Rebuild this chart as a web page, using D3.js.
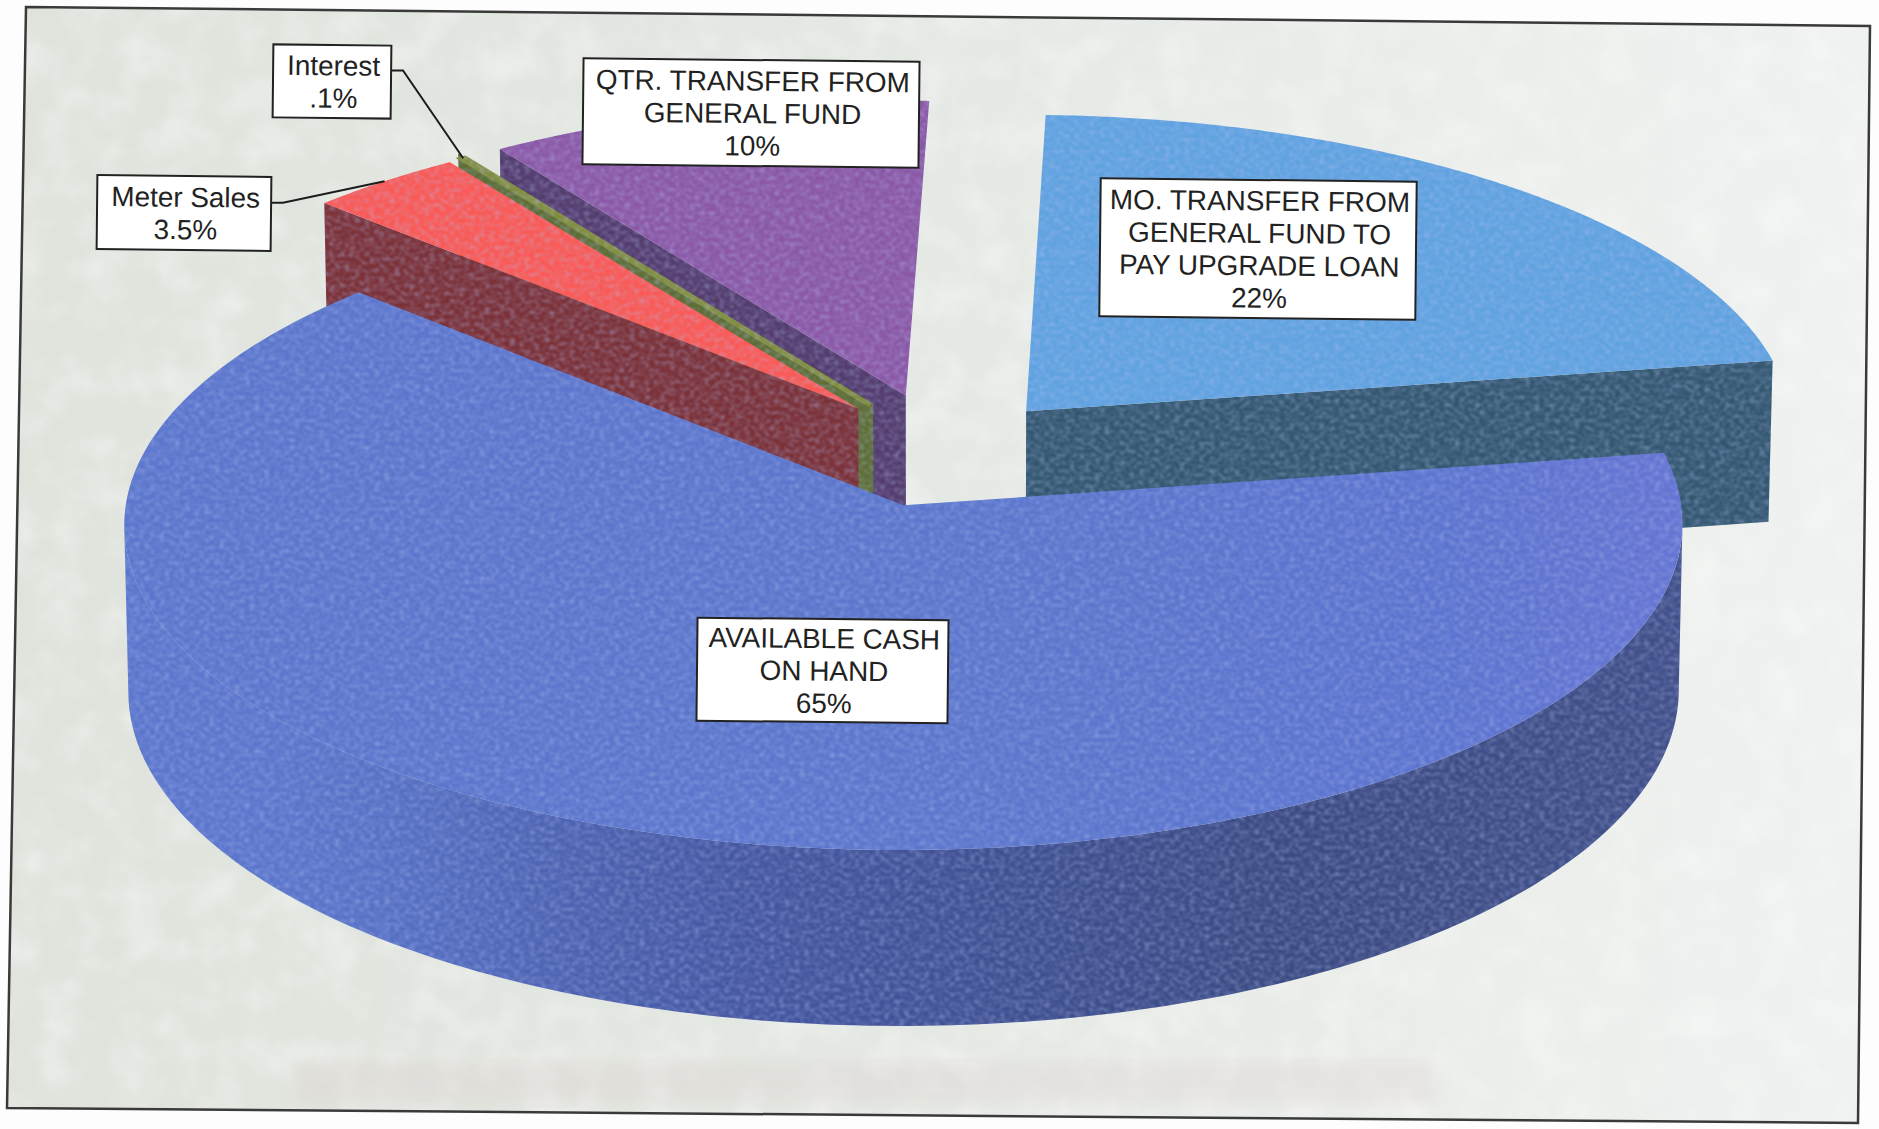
<!DOCTYPE html>
<html>
<head>
<meta charset="utf-8">
<script src="https://cdnjs.cloudflare.com/ajax/libs/d3/7.8.5/d3.min.js"></script>
<style>
  html, body { margin: 0; padding: 0; background: #fdfdfd; }
  svg { display: block; }
  text { font-family: "Liberation Sans", Arial, sans-serif; font-size: 27.9px; fill: #222; }
</style>
</head>
<body>
<svg id="chart" width="1879" height="1129"></svg>
<script>
// Funding sources, in drawing order clockwise from the top of the pie.
const categories = ["MO. TRANSFER", "AVAILABLE CASH", "Meter Sales", "Interest", "QTR. TRANSFER"];
const values = [22, 65, 3.5, 0.1, 10];
const labelLines = [
  ["MO. TRANSFER FROM", "GENERAL FUND TO", "PAY UPGRADE LOAN", "22%"],
  ["AVAILABLE CASH", "ON HAND", "65%"],
  ["Meter Sales", "3.5%"],
  ["Interest", ".1%"],
  ["QTR. TRANSFER FROM", "GENERAL FUND", "10%"]
];

// Styling and layout for each slice.
const topColors = ["#5ea2e0", "url(#blueTop)", "#fb5853", "#7f8c3a", "#8a56a5"];
const cutColors = ["#31566f", "#3e4f8a", "#7a2f35", "#5c6c32", "#523a6c"];
const explode = [0.163, 0.18, 0.172, 0.172, 0.18];
const labelBoxes = [
  [1100, 180, 316, 138],
  [697, 619, 251, 103],
  [97, 176, 174, 74],
  [273, 45, 118, 73],
  [583, 60, 336, 106]
];

const svg = d3.select("#chart");
const defs = svg.append("defs");

// Perspective mapping from the unit disc onto the page.
const k = 0.058, depth = 164, baseShrink = 0.995;
const sx = d3.scaleLinear().domain([-1, 1]).range([944 - 770, 944 + 770]);
const sy = d3.scaleLinear().domain([-1, 1]).range([450 - 318, 450 + 318]);
const project = (u, v, lower) => {
  const w = 1 - k * v;
  const x = sx(u / w), y = sy(v / w);
  return lower ? [944 + (x - 944) * baseShrink, y + depth / w] : [x, y];
};

const pie = d3.pie().sort(null)
  .startAngle(1.9 * Math.PI / 180)
  .endAngle(361.7 * Math.PI / 180);
const arcs = pie(values);

const slices = arcs.map((a, i) => {
  const mid = (a.startAngle + a.endAngle) / 2;
  const c = [explode[i] * Math.sin(mid), -explode[i] * Math.cos(mid)];
  const at = (t, r = 1) => [c[0] + r * Math.sin(t), c[1] - r * Math.cos(t)];
  return { i, a, c, at };
});

const line = d3.line();
const angleSteps = (s, e) => d3.range(0, 241).map(d => s + (e - s) * d / 240);

const horizontalGradient = (id, x1, x2, stops) => {
  const g = defs.append("linearGradient").attr("id", id)
    .attr("gradientUnits", "userSpaceOnUse").attr("x1", x1).attr("x2", x2).attr("y1", 0).attr("y2", 0);
  stops.forEach(([o, col]) => g.append("stop").attr("offset", o).attr("stop-color", col));
};
horizontalGradient("wall", 124, 1680, [[0, "#5a75cc"], [0.09, "#5a75cc"], [0.17, "#5570c4"], [0.26, "#4c64b4"], [0.4, "#43559f"], [0.55, "#3e4f92"], [0.75, "#394980"], [1, "#3f4e88"]]);
horizontalGradient("paper", 0, 1879, [[0, "#dfe3dc"], [0.45, "#e4e8e3"], [0.8, "#ebeeeb"], [1, "#eff2f0"]]);
horizontalGradient("blueTop", 124, 1680, [[0, "#5a75cc"], [0.6, "#5a75cc"], [0.85, "#5a73cf"], [1, "#6373d2"]]);

// Scanner grain laid over the coloured wedges, and a fainter cloud for the sheet.
const addTexture = (id, freq, octaves, seed, rgb, gain, bias, blur) => {
  const f = defs.append("filter").attr("id", id)
    .attr("filterUnits", "userSpaceOnUse").attr("x", 0).attr("y", 0).attr("width", 1879).attr("height", 1129)
    .attr("color-interpolation-filters", "sRGB");
  f.append("feTurbulence").attr("type", "fractalNoise").attr("baseFrequency", freq)
    .attr("numOctaves", octaves).attr("seed", seed).attr("result", "n");
  f.append("feColorMatrix").attr("in", "n").attr("type", "matrix")
    .attr("values", `0 0 0 0 ${rgb[0]}  0 0 0 0 ${rgb[1]}  0 0 0 0 ${rgb[2]}  ${gain} 0 0 0 ${bias}`).attr("result", "tone");
  f.append("feGaussianBlur").attr("in", "tone").attr("stdDeviation", blur).attr("result", "soft");
  f.append("feComposite").attr("in", "soft").attr("in2", "SourceAlpha").attr("operator", "in").attr("result", "clipped");
  const m = f.append("feMerge");
  m.append("feMergeNode").attr("in", "SourceGraphic");
  m.append("feMergeNode").attr("in", "clipped");
};
addTexture("grain", "0.2 0.26", 4, 7, [0.72, 0.76, 0.95], 1.1, -0.45, 0.8);
addTexture("mottle", 0.025, 4, 3, [1, 1, 1], 0.7, -0.27, 1.2);

defs.append("filter").attr("id", "soft").append("feGaussianBlur").attr("stdDeviation", 7);

// Sheet with its frame.
const panel = [[26, 7], [1870, 26], [1858, 1123], [7, 1108]];
svg.append("path").attr("d", line(panel) + "Z")
  .attr("fill", "url(#paper)").attr("filter", "url(#mottle)");

// Faint show-through from the reverse of the sheet.
svg.append("rect").attr("x", 295).attr("y", 1062).attr("width", 1140).attr("height", 42)
  .attr("fill", "#dcc9c9").attr("opacity", 0.25).attr("filter", "url(#soft)");

svg.append("path").attr("d", line(panel) + "Z")
  .attr("fill", "none").attr("stroke", "#3a3a3a").attr("stroke-width", 2.5);

const pieLayer = svg.append("g").attr("filter", "url(#grain)");

function topPath(s) {
  const pts = angleSteps(s.a.startAngle, s.a.endAngle).map(t => project(...s.at(t)));
  return line([project(...s.c), ...pts]) + "Z";
}
function cutFace(s, t) {
  return line([project(...s.c), project(...s.at(t)), project(...s.at(t), true), project(...s.c, true)]) + "Z";
}
// Outer wall between the rim's left and right extremes, where it faces the viewer.
function wallPath(s) {
  const ts = angleSteps(s.a.startAngle, s.a.endAngle);
  const rimX = ts.map(t => project(...s.at(t))[0]);
  const from = d3.greatestIndex(rimX), to = d3.leastIndex(rimX);
  const front = ts.slice(from, to + 1);
  return line([...front.map(t => project(...s.at(t))), ...front.slice().reverse().map(t => project(...s.at(t), true))]) + "Z";
}

// Painted back to front: rear wedges first, the large front wedge last.
[4, 3, 2, 0, 1].forEach(i => {
  const s = slices[i];
  const g = pieLayer.append("g").attr("class", "slice").attr("data-name", categories[i]);
  if (i === 1) {
    g.append("path").attr("d", wallPath(s)).attr("fill", "url(#wall)");
  } else if (i === 0) {
    g.append("path").attr("d", cutFace(s, s.a.endAngle)).attr("fill", cutColors[i]);
  } else {
    g.append("path").attr("d", cutFace(s, s.a.startAngle)).attr("fill", cutColors[i])
      .attr("stroke", i === 3 ? cutColors[i] : "none").attr("stroke-width", i === 3 ? 6 : 0);
  }
  g.append("path").attr("d", topPath(s)).attr("fill", topColors[i])
    .attr("stroke", i === 3 ? topColors[i] : "none").attr("stroke-width", i === 3 ? 4.5 : 0);
});

// Leader lines for the two narrow wedges.
const arcMid = s => project(...s.at((s.a.startAngle + s.a.endAngle) / 2));
[[2, 0.36], [3, 0.35]].forEach(([i, rise]) => {
  const b = labelBoxes[i];
  const startY = b[1] + b[3] * rise;
  const end = arcMid(slices[i]);
  svg.append("path")
    .attr("d", line([[b[0] + b[2], startY], [b[0] + b[2] + 12, startY], end]))
    .attr("fill", "none").attr("stroke", "#1c1c1c").attr("stroke-width", 2);
});

// Boxed value labels.
const lineStep = 32.4;
labelBoxes.forEach((b, i) => {
  const cx = b[0] + b[2] / 2, cy = b[1] + b[3] / 2;
  const g = svg.append("g").attr("transform", `rotate(0.6 ${cx} ${cy})`);
  g.append("rect").attr("x", b[0]).attr("y", b[1]).attr("width", b[2]).attr("height", b[3])
    .attr("fill", "#ffffff").attr("stroke", "#222").attr("stroke-width", 2);
  const lines = labelLines[i];
  lines.forEach((t, j) => {
    g.append("text").attr("x", cx + 1.5).attr("y", cy + (j - (lines.length - 1) / 2) * lineStep)
      .attr("text-anchor", "middle").attr("dy", "0.36em").text(t);
  });
});
</script>
</body>
</html>
